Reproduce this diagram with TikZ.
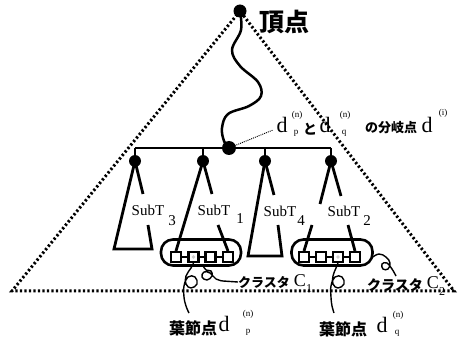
\documentclass[tikz,border=0pt]{standalone}
\usepackage{fontspec}
\setmainfont{Liberation Serif}
\newfontfamily\jp{Noto Sans CJK JP}
\begin{document}
\begin{tikzpicture}[x=1pt,y=-1pt,
  tree/.style={line width=2.8pt},
  thin/.style={line width=1.4pt},
  tri/.style={line width=3pt, dash pattern=on 2.2pt off 2.3pt},
  bigdot/.style={circle,fill=black,inner sep=0pt,minimum size=#1},
  bigdot/.default=12pt,
  leaf/.style={draw,line width=2.1pt,minimum size=10pt,inner sep=0pt,fill=white},
  capsule/.style={draw,line width=2.6pt,rounded corners=12pt,minimum width=80pt,minimum height=26pt,inner sep=0pt},
  jpt/.style={font=\jp\bfseries\fontsize{#1}{#1}\selectfont, inner sep=0pt},
  ser/.style={font=\fontsize{#1}{#1}\selectfont, inner sep=0pt},
]
\useasboundingbox (0,0) rectangle (475,345);
% apex and outer dotted triangle
\node[bigdot=13pt] (apex) at (240,11) {};
\coordinate (tL) at (12,291);
\coordinate (tR) at (454,291);
\draw[tri] (apex.center) -- (tL) -- (tR) -- cycle;
\node[jpt=25] (top) at (284,22) {頂点};
% branch point
\node[bigdot=14pt] (br) at (229,148) {};
\draw[tree, line width=2.5pt, line join=round] plot[smooth, tension=0.6] coordinates {(apex.center) (241,30) (232,50) (240,66) (258,82) (261,96) (249,106) (228,114) (222,128) (224,141) (br.center)};
% subtree roots
\node[bigdot] (r3) at (135,161) {};
\node[bigdot] (r1) at (203,161) {};
\node[bigdot] (r4) at (265,161) {};
\node[bigdot] (r2) at (331,161) {};
\draw[tree] (r3.center |- br.center) -- (r2.center |- br.center);
\foreach \r in {r3,r1,r4,r2} \draw[tree] (\r.center |- br.center) -- (\r.center);
% clusters
\node[capsule] (C1) at (201,252.5) {};
\node[capsule,minimum width=81pt] (C2) at (332,252.5) {};
\node[leaf] (a1) at (176,257) {};
\node[leaf] (a2) at (193.5,257) {};
\node[leaf] (a3) at (210.5,257) {};
\node[leaf] (a4) at (228,257) {};
\node[leaf] (b1) at (304,257) {};
\node[leaf] (b2) at (321,257) {};
\node[leaf] (b3) at (338,257) {};
\node[leaf] (b4) at (355,257) {};
\draw[thin] (a1) -- (a2) -- (a3) -- (a4);
\draw[thin] (b1) -- (b2) -- (b3) -- (b4);
\fill[gray!40] (a2.center) circle (1.8pt);
\fill[gray!40] (b3.center) circle (1.8pt);
% SubT3
\coordinate (s3l) at (114,249);
\coordinate (s3r) at (152,249);
\coordinate (s3g1) at (143,194);
\coordinate (s3g2) at (148,225);
\draw[tree, line join=miter] (r3.center) -- (s3l) -- (s3r) -- (s3g2);
\draw[tree] (r3.center) -- (s3g1);
% SubT1
\coordinate (s1g1) at (212,194);
\coordinate (s1g2) at (218,225);
\draw[tree] (r1.center) -- (a1.north);
\draw[tree] (r1.center) -- (s1g1);
\draw[tree] (s1g2) -- (a4.north);
% SubT4
\coordinate (s4l) at (248,256);
\coordinate (s4r) at (282,256);
\coordinate (s4g1) at (274,195);
\coordinate (s4g2) at (278,225);
\draw[tree, line join=miter] (r4.center) -- (s4l) -- (s4r) -- (s4g2);
\draw[tree] (r4.center) -- (s4g1);
% SubT2
\coordinate (s2g1) at (320,204);
\coordinate (s2g2) at (312,225);
\coordinate (s2g3) at (341,196);
\coordinate (s2g4) at (348,225);
\draw[tree] (r2.center) -- (s2g1);
\draw[tree] (s2g2) -- (b1.north);
\draw[tree] (r2.center) -- (s2g3);
\draw[tree] (s2g4) -- (b4.north);
% SubT labels
\node[ser=15] (t3) at (148,210) {SubT};
\node[ser=15] (n3) at (172,221) {3};
\node[ser=15] (t1) at (214,210) {SubT};
\node[ser=15] (n1) at (240,219) {1};
\node[ser=15] (t4) at (280,211) {SubT};
\node[ser=15] (n4) at (301,221) {4};
\node[ser=15] (t2) at (344,211) {SubT};
\node[ser=15] (n2) at (367,221) {2};
% top label
\node[ser=22] (d1) at (282,125) {d};
\node[ser=9] (d1s) at (297,115) {(n)};
\node[ser=9] (d1p) at (296,133) {p};
\node[jpt=14] (to) at (310,129) {と};
\node[ser=22] (d2) at (325,125) {d};
\node[ser=9] (d2s) at (345,115) {(n)};
\node[ser=9] (d2q) at (344,133) {q};
\node[jpt=13] (bunki) at (391,128) {の分岐点};
\node[ser=22] (d3) at (427,125) {d};
\node[ser=9] (d3s) at (443,113) {(i)};
\coordinate (lead) at (273,130);
\draw[line width=0.9pt, dash pattern=on 1pt off 1pt] (br.center) -- (lead);
% cluster labels
\node[jpt=13] (k1) at (264,282) {クラスタ};
\node[ser=18] (k1c) at (300,281) {C};
\node[ser=12] (k1n) at (309,289) {1};
\node[jpt=14] (k2) at (395,285) {クラスタ};
\node[ser=18] (k2c) at (433,283) {C};
\node[ser=12] (k2n) at (442,292) {2};
% leaf labels
\node[jpt=16] (y1) at (193,328) {葉節点};
\node[ser=22] (y1d) at (224,324) {d};
\node[ser=9] (y1s) at (248,314) {(n)};
\node[ser=9] (y1p) at (248,332) {p};
\node[jpt=16] (y2) at (343,329) {葉節点};
\node[ser=22] (y2d) at (382,325) {d};
\node[ser=9] (y2s) at (398,315) {(n)};
\node[ser=9] (y2q) at (397,333) {q};
% curly pointers
\draw[thin] plot[smooth, tension=0.7] coordinates {(a2.south) (191,268) (186,276) (186,284) (191,288) (197,284) (195,277) (188,277) (184,286) (184,297) (186,306) (189,313)};
\draw[thin] plot[smooth, tension=0.7] coordinates {(203,265.5) (206,270) (211,271) (212,276) (207,280) (202,277) (204,272) (210,273) (216,279) (223,281)} -- (k1.west);
\draw[thin] plot[smooth, tension=0.7] coordinates {(b3.south) (336,268) (333,276) (333,284) (338,288) (344,284) (342,277) (335,277) (331,286) (331,297) (332,306) (334,313)};
\draw[thin] plot[smooth, tension=0.7] coordinates {(373,257) (379,254) (386,257) (390,263) (388,269) (383,269) (382,264) (387,263) (392,269) (396,276)};
\end{tikzpicture}
\end{document}
